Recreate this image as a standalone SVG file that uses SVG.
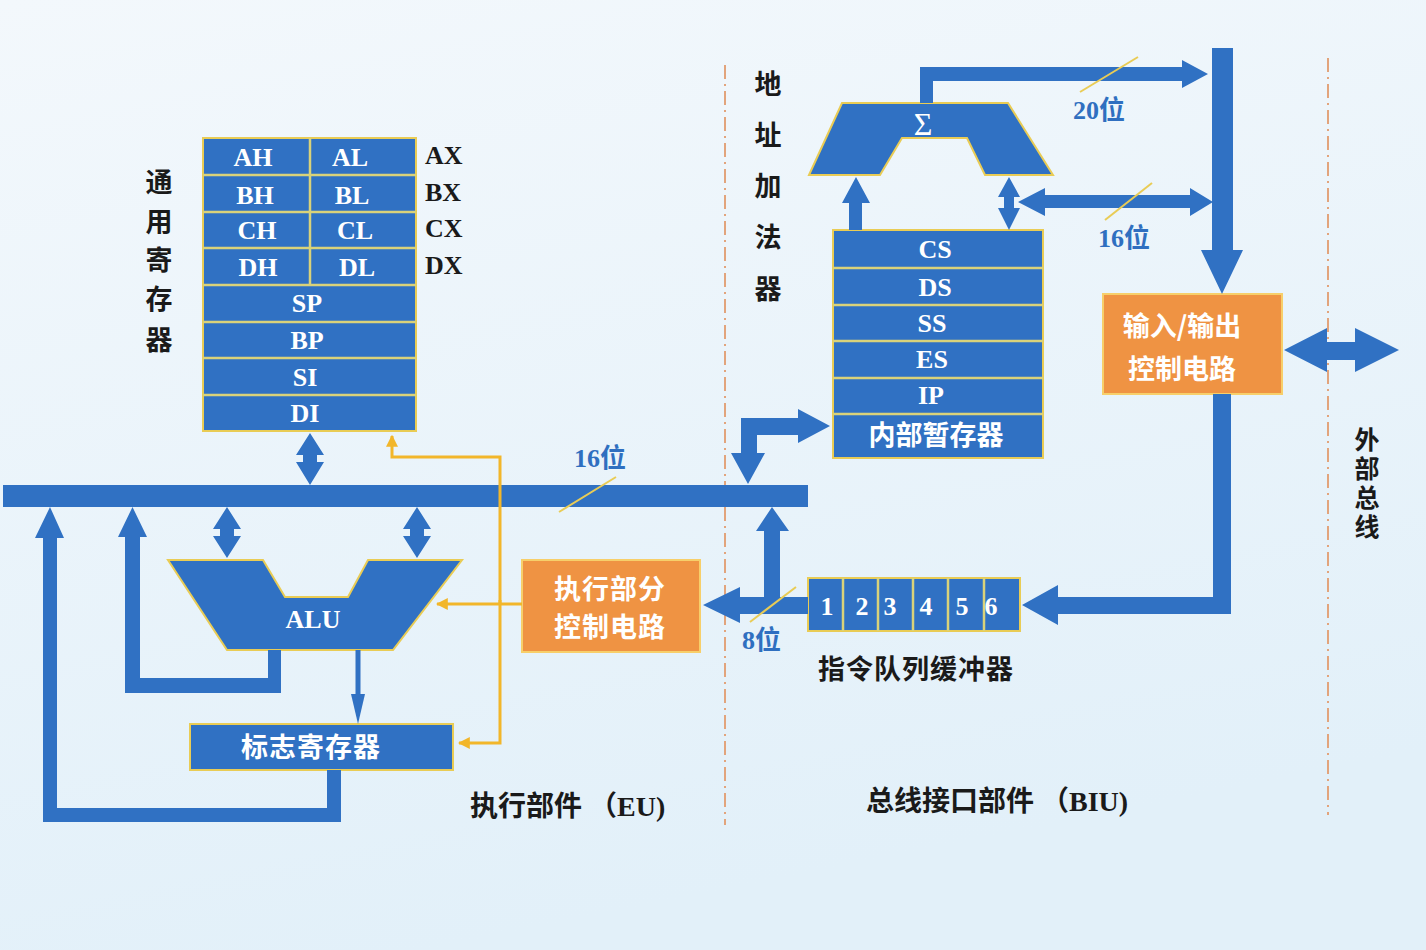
<svg xmlns="http://www.w3.org/2000/svg" width="1426" height="950" viewBox="0 0 1426 950">
<defs>
<linearGradient id="bg" x1="0" y1="0" x2="0.3" y2="1">
<stop offset="0" stop-color="#f3f8fc"/>
<stop offset="1" stop-color="#e2f0f9"/>
</linearGradient>
<marker id="yh" viewBox="0 0 10 10" refX="9" refY="5" markerWidth="4" markerHeight="4" orient="auto">
<path d="M0,0 L10,5 L0,10 Z" fill="#f2b62a"/>
</marker>
<style>
.blk{fill:#3071c3;stroke:#e9cc55;stroke-width:2}
.sep{stroke:#d9d27a;stroke-width:2.5}
.org{fill:#ef9343;stroke:#f7cf6a;stroke-width:2}
.ar{fill:#3071c3}
.yl{fill:none;stroke:#f2b62a;stroke-width:3}
.sl{stroke:#e9cc55;stroke-width:2}
.dash{stroke:#e2a47c;stroke-width:2;stroke-dasharray:14 5 2 5}
.wl{fill:#ffffff;font-family:"Liberation Serif",serif;font-weight:bold;font-size:26px;text-anchor:middle;dominant-baseline:central}
.wc{fill:#ffffff;font-family:"Noto Sans CJK SC",sans-serif;font-weight:bold;font-size:27px;text-anchor:middle;dominant-baseline:central}
.bl{fill:#1a1a1a;font-family:"Liberation Serif",serif;font-weight:bold;font-size:26px;dominant-baseline:central}
.bc{fill:#1a1a1a;font-family:"Noto Sans CJK SC",sans-serif;font-weight:bold;font-size:27px;text-anchor:middle;dominant-baseline:central}
.bv{fill:#1a1a1a;font-family:"Noto Sans CJK SC",sans-serif;font-weight:bold;text-anchor:middle;writing-mode:vertical-rl}
.bm{fill:#1a1a1a;font-family:"Liberation Serif","Noto Sans CJK SC",serif;font-weight:bold;font-size:28px;dominant-baseline:central}
.nb{fill:#2f6fc0;font-family:"Liberation Serif","Noto Sans CJK SC",serif;font-weight:bold;font-size:26px;dominant-baseline:central}
</style>
</defs>
<rect x="0" y="0" width="1426" height="950" fill="url(#bg)"/>

<g id="dividers">
<line class="dash" x1="725" y1="65" x2="725" y2="825"/>
<line class="dash" x1="1328" y1="58" x2="1328" y2="815"/>
</g>

<g id="general-registers">
<rect class="blk" x="203" y="138" width="213" height="293"/>
<line class="sep" x1="203" y1="175" x2="416" y2="175"/>
<line class="sep" x1="203" y1="212" x2="416" y2="212"/>
<line class="sep" x1="203" y1="248" x2="416" y2="248"/>
<line class="sep" x1="203" y1="285" x2="416" y2="285"/>
<line class="sep" x1="203" y1="322" x2="416" y2="322"/>
<line class="sep" x1="203" y1="358" x2="416" y2="358"/>
<line class="sep" x1="203" y1="395" x2="416" y2="395"/>
<line class="sep" x1="310" y1="138" x2="310" y2="285"/>
<text class="wl" x="253" y="157">AH</text>
<text class="wl" x="350" y="157">AL</text>
<text class="wl" x="255" y="195">BH</text>
<text class="wl" x="352" y="195">BL</text>
<text class="wl" x="257" y="230">CH</text>
<text class="wl" x="355" y="230">CL</text>
<text class="wl" x="258" y="267">DH</text>
<text class="wl" x="357" y="267">DL</text>
<text class="wl" x="307" y="303">SP</text>
<text class="wl" x="307" y="340">BP</text>
<text class="wl" x="305" y="377">SI</text>
<text class="wl" x="305" y="413">DI</text>
<text class="bl" x="425" y="155">AX</text>
<text class="bl" x="425" y="192">BX</text>
<text class="bl" x="425" y="228">CX</text>
<text class="bl" x="425" y="265">DX</text>
<text class="bc" x="159" y="180">通</text>
<text class="bc" x="159" y="220">用</text>
<text class="bc" x="159" y="258">寄</text>
<text class="bc" x="159" y="297">存</text>
<text class="bc" x="159" y="338">器</text>
</g>

<g id="internal-bus">
<rect class="ar" x="3" y="485" width="805" height="22"/>
<line class="sl" x1="559" y1="512" x2="616" y2="477"/>
<text class="nb" x="574" y="458">16位</text>
</g>

<g id="alu">
<polygon class="blk" points="168,560 263,560 285,597 348,597 368,560 462,560 393,650 227,650"/>
<text class="wl" x="313" y="619">ALU</text>
</g>

<g id="flags-register">
<rect class="blk" x="190" y="724" width="263" height="46"/>
<text class="wc" x="311" y="745" font-size="28" letter-spacing="1">标志寄存器</text>
</g>

<g id="exec-control">
<rect class="org" x="522" y="560" width="178" height="92"/>
<text class="wc" x="610" y="587" font-size="26" letter-spacing="1">执行部分</text>
<text class="wc" x="610" y="625" font-size="26" letter-spacing="1">控制电路</text>
</g>

<g id="address-adder">
<polygon class="blk" points="809,175 842,103 1008,103 1053,175 985,175 967,138 902,138 880,175"/>
<text x="923" y="124" fill="#ffffff" font-family="Liberation Serif, serif" font-size="32" text-anchor="middle" dominant-baseline="central">Σ</text>
<text class="bc" x="768" y="82">地</text>
<text class="bc" x="768" y="133">址</text>
<text class="bc" x="768" y="184">加</text>
<text class="bc" x="768" y="235">法</text>
<text class="bc" x="768" y="287">器</text>
</g>

<g id="segment-registers">
<rect class="blk" x="833" y="230" width="210" height="228"/>
<line class="sep" x1="833" y1="268" x2="1043" y2="268"/>
<line class="sep" x1="833" y1="305" x2="1043" y2="305"/>
<line class="sep" x1="833" y1="341" x2="1043" y2="341"/>
<line class="sep" x1="833" y1="378" x2="1043" y2="378"/>
<line class="sep" x1="833" y1="414" x2="1043" y2="414"/>
<text class="wl" x="935" y="249">CS</text>
<text class="wl" x="935" y="287">DS</text>
<text class="wl" x="932" y="323">SS</text>
<text class="wl" x="932" y="359">ES</text>
<text class="wl" x="931" y="395">IP</text>
<text class="wc" x="936" y="433">内部暂存器</text>
</g>

<g id="io-control">
<rect class="org" x="1103" y="294" width="179" height="100"/>
<text class="wc" x="1182" y="324">输入/输出</text>
<text class="wc" x="1182" y="367">控制电路</text>
</g>

<g id="instruction-queue">
<rect class="blk" x="808" y="578" width="212" height="53"/>
<line class="sep" x1="843" y1="578" x2="843" y2="631"/>
<line class="sep" x1="878" y1="578" x2="878" y2="631"/>
<line class="sep" x1="913" y1="578" x2="913" y2="631"/>
<line class="sep" x1="948" y1="578" x2="948" y2="631"/>
<line class="sep" x1="984" y1="578" x2="984" y2="631"/>
<text class="wl" x="827" y="606">1</text>
<text class="wl" x="862" y="606">2</text>
<text class="wl" x="890" y="606">3</text>
<text class="wl" x="926" y="606">4</text>
<text class="wl" x="962" y="606">5</text>
<text class="wl" x="991" y="606">6</text>
<text class="bc" x="916" y="667" font-size="28" letter-spacing="1">指令队列缓冲器</text>
</g>

<g id="labels">
<text class="bm" x="470" y="806">执行部件 （EU)</text>
<text class="bm" x="866" y="801">总线接口部件 （BIU)</text>
<text class="bv" x="1367" y="485" font-size="25" letter-spacing="4">外部总线</text>
</g>

<g id="connectors">
<path class="ar" d="M310,433 L324,455 L317,455 L317,462 L324,462 L310,485 L296,462 L303,462 L303,455 L296,455 Z"/>
<path class="ar" d="M227,507 L241,529 L234,529 L234,536 L241,536 L227,558 L213,536 L220,536 L220,529 L213,529 Z"/>
<path class="ar" d="M417,507 L431,529 L424,529 L424,536 L431,536 L417,558 L403,536 L410,536 L410,529 L403,529 Z"/>
<path class="ar" d="M268,650 L281,650 L281,693 L125,693 L125,537 L118,537 L132.5,507 L147,537 L140,537 L140,678 L268,678 Z"/>
<line x1="358" y1="650" x2="358" y2="696" stroke="#3071c3" stroke-width="5"/>
<polygon class="ar" points="351,694 365,694 358,724"/>
<path class="ar" d="M327,770 L341,770 L341,822 L43,822 L43,538 L35,538 L50,507 L64,538 L57,538 L57,808 L327,808 Z"/>
<path class="yl" d="M522,604 L437,604" marker-end="url(#yh)"/>
<path class="yl" d="M500,604 L500,457 L392,457 L392,436" marker-end="url(#yh)"/>
<path class="yl" d="M500,600 L500,743 L459,743" marker-end="url(#yh)"/>
<path class="ar" d="M808,597 L808,614 L740,614 L740,623 L703,605 L740,587 L740,597 L764,597 L764,531 L756,531 L772,507 L789,531 L780,531 L780,597 Z"/>
<line class="sl" x1="750" y1="622" x2="796" y2="587"/>
<text class="nb" x="742" y="640">8位</text>
<path class="ar" d="M748,484 L765,453 L757,453 L757,435 L798,435 L798,443 L830,426 L798,409 L798,418 L741,418 L741,453 L731,453 Z"/>
<path class="ar" d="M849,230 L849,203 L842,203 L856,177 L870,203 L862,203 L862,230 Z"/>
<path class="ar" d="M1009,177 L1020,197 L1014,197 L1014,208 L1020,208 L1009,230 L998,208 L1004,208 L1004,197 L998,197 Z"/>
<path class="ar" d="M1018,202 L1045,188 L1045,195 L1190,195 L1190,188 L1213,202 L1190,216 L1190,208 L1045,208 L1045,216 Z"/>
<line class="sl" x1="1105" y1="220" x2="1152" y2="183"/>
<text class="nb" x="1098" y="238">16位</text>
<path class="ar" d="M920,103 L920,67 L1182,67 L1182,60 L1208,74 L1182,88 L1182,81 L933,81 L933,103 Z"/>
<line class="sl" x1="1080" y1="92" x2="1138" y2="57"/>
<text class="nb" x="1073" y="110">20位</text>
<path class="ar" d="M1212,48 L1233,48 L1233,250 L1243,250 L1222,294 L1201,250 L1212,250 Z"/>
<path class="ar" d="M1213,394 L1231,394 L1231,614 L1058,614 L1058,625 L1022,605 L1058,585 L1058,597 L1213,597 Z"/>
<path class="ar" d="M1284,350 L1327,328 L1327,342 L1355,342 L1355,328 L1399,350 L1355,372 L1355,360 L1327,360 L1327,372 Z"/>
</g>
</svg>
